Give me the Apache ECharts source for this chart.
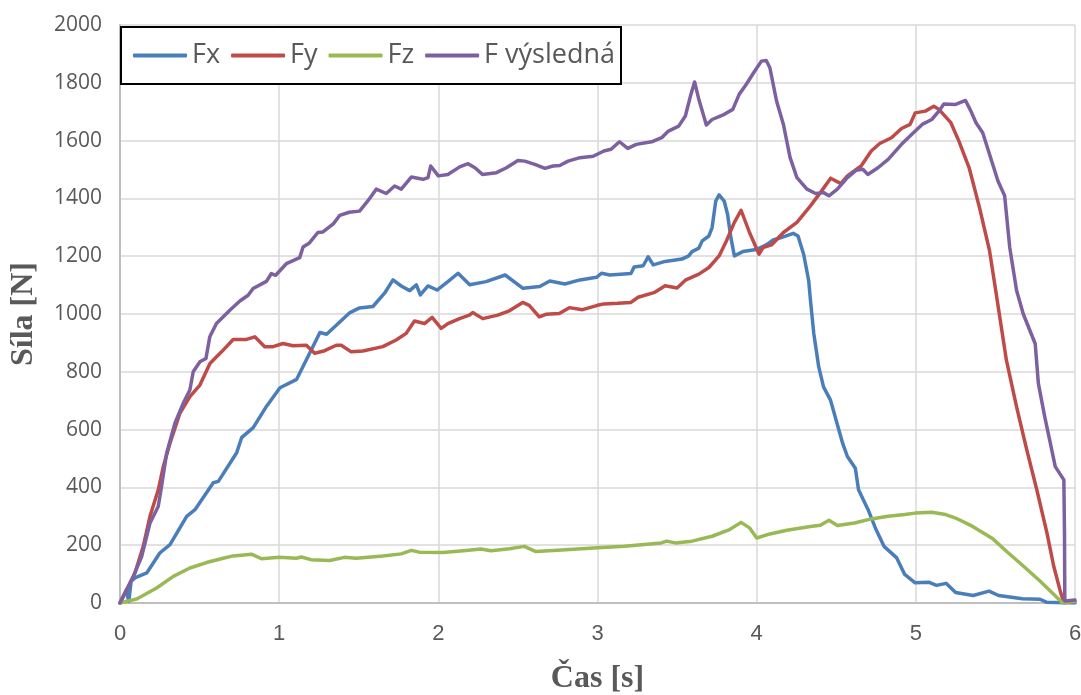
<!DOCTYPE html>
<html>
<head>
<meta charset="utf-8">
<title>Síla v čase</title>
<script src="https://cdn.jsdelivr.net/npm/echarts@6/dist/echarts.min.js"></script>
<style>
  html, body { margin: 0; padding: 0; background: #ffffff; }
  #chart { width: 1081px; height: 695px; }
</style>
</head>
<body>
<div id="chart"></div>
<script>
// Measured force components over time: [time s, force N]
const fxData = [[0,0],[0.04,45],[0.055,5],[0.07,75],[0.094,87],[0.168,104],[0.25,173],[0.314,202],[0.419,300],[0.471,323],[0.586,416],[0.618,421],[0.733,520],[0.764,572],[0.837,607],[0.921,681],[1.005,745],[1.11,774],[1.214,889],[1.256,936],[1.298,930],[1.445,1005],[1.505,1021],[1.589,1026],[1.662,1072],[1.715,1118],[1.767,1097],[1.82,1081],[1.862,1101],[1.887,1066],[1.935,1097],[1.992,1083],[2.06,1112],[2.124,1141],[2.197,1101],[2.30,1112],[2.42,1135],[2.532,1089],[2.637,1095],[2.70,1114],[2.795,1104],[2.89,1118],[2.994,1127],[3.025,1141],[3.078,1135],[3.21,1140],[3.23,1163],[3.287,1167],[3.318,1198],[3.35,1170],[3.425,1182],[3.53,1190],[3.573,1201],[3.594,1216],[3.637,1228],[3.658,1253],[3.70,1270],[3.72,1299],[3.743,1391],[3.764,1412],[3.796,1391],[3.817,1345],[3.838,1264],[3.86,1201],[3.913,1216],[3.998,1223],[4.06,1239],[4.104,1256],[4.168,1267],[4.23,1279],[4.26,1270],[4.295,1207],[4.327,1115],[4.338,1047],[4.359,932],[4.39,817],[4.42,748],[4.464,702],[4.505,621],[4.54,553],[4.57,507],[4.62,466],[4.64,392],[4.70,323],[4.75,254],[4.80,196],[4.88,156],[4.93,99],[4.996,70],[5.08,72],[5.13,61],[5.19,68],[5.25,36],[5.36,26],[5.46,41],[5.52,26],[5.67,15],[5.78,13],[5.82,3],[5.92,1],[6.0,0]];

const fyData = [[0,0],[0.094,104],[0.146,196],[0.188,299],[0.24,391],[0.272,472],[0.314,553],[0.376,656],[0.439,714],[0.502,754],[0.565,829],[0.638,869],[0.711,912],[0.795,912],[0.847,921],[0.909,887],[0.962,887],[1.024,898],[1.087,890],[1.171,892],[1.223,864],[1.286,873],[1.359,892],[1.39,892],[1.453,869],[1.526,872],[1.651,887],[1.735,910],[1.798,933],[1.85,976],[1.913,967],[1.961,988],[2.018,950],[2.06,967],[2.133,984],[2.195,996],[2.216,1005],[2.279,984],[2.373,996],[2.446,1011],[2.53,1040],[2.571,1030],[2.634,990],[2.676,999],[2.76,1002],[2.823,1022],[2.906,1015],[3.0,1030],[3.04,1035],[3.127,1037],[3.21,1040],[3.255,1058],[3.36,1075],[3.425,1098],[3.5,1090],[3.552,1117],[3.637,1138],[3.70,1161],[3.764,1201],[3.806,1248],[3.86,1317],[3.902,1359],[3.955,1282],[4.015,1207],[4.04,1230],[4.093,1239],[4.168,1282],[4.253,1317],[4.338,1374],[4.40,1420],[4.465,1470],[4.529,1451],[4.57,1478],[4.656,1512],[4.72,1564],[4.773,1590],[4.847,1610],[4.91,1642],[4.964,1656],[4.996,1696],[5.06,1702],[5.113,1719],[5.145,1708],[5.22,1662],[5.27,1599],[5.335,1506],[5.4,1368],[5.463,1219],[5.505,1070],[5.569,840],[5.633,679],[5.697,530],[5.76,392],[5.824,242],[5.866,128],[5.91,36],[5.93,1],[6.0,5]];

const fzData = [[0,0],[0.105,14],[0.23,52],[0.335,92],[0.439,121],[0.544,140],[0.648,155],[0.711,163],[0.826,169],[0.889,153],[1.0,158],[1.108,155],[1.14,159],[1.20,150],[1.317,147],[1.41,158],[1.484,155],[1.652,163],[1.767,170],[1.83,182],[1.88,176],[2.03,175],[2.174,182],[2.268,187],[2.331,181],[2.446,188],[2.54,196],[2.613,178],[2.80,184],[3.0,191],[3.17,196],[3.40,208],[3.435,214],[3.488,208],[3.594,214],[3.72,231],[3.83,254],[3.902,279],[3.955,260],[4.0,225],[4.083,239],[4.19,252],[4.338,265],[4.40,269],[4.454,286],[4.507,268],[4.614,277],[4.72,291],[4.826,300],[4.93,306],[4.996,311],[5.10,314],[5.187,306],[5.25,294],[5.357,265],[5.484,222],[5.569,179],[5.675,128],[5.78,76],[5.866,30],[5.92,1],[6.0,5]];

const fResData = [[0,0],[0.084,92],[0.136,161],[0.188,276],[0.24,334],[0.261,403],[0.293,518],[0.345,622],[0.397,691],[0.439,737],[0.46,800],[0.502,835],[0.54,846],[0.564,921],[0.606,967],[0.69,1013],[0.753,1045],[0.805,1065],[0.836,1088],[0.92,1113],[0.951,1140],[0.978,1134],[1.045,1174],[1.129,1195],[1.15,1232],[1.19,1246],[1.243,1282],[1.275,1284],[1.34,1312],[1.38,1341],[1.44,1352],[1.505,1356],[1.558,1392],[1.61,1432],[1.673,1417],[1.725,1443],[1.767,1432],[1.83,1474],[1.904,1466],[1.935,1472],[1.952,1512],[2.0,1478],[2.06,1483],[2.134,1509],[2.187,1520],[2.23,1506],[2.277,1483],[2.365,1489],[2.428,1506],[2.50,1531],[2.543,1529],[2.606,1518],[2.67,1504],[2.72,1512],[2.763,1514],[2.815,1529],[2.89,1541],[2.973,1546],[3.04,1564],[3.085,1570],[3.138,1596],[3.19,1573],[3.244,1587],[3.34,1596],[3.403,1610],[3.446,1633],[3.51,1650],[3.552,1685],[3.584,1754],[3.61,1803],[3.637,1742],[3.684,1654],[3.72,1673],[3.786,1688],[3.85,1708],[3.89,1760],[3.934,1794],[3.987,1840],[4.03,1875],[4.06,1877],[4.083,1852],[4.125,1737],[4.168,1656],[4.21,1541],[4.253,1472],[4.316,1432],[4.37,1417],[4.42,1420],[4.454,1409],[4.507,1432],[4.57,1472],[4.624,1497],[4.667,1501],[4.698,1483],[4.762,1506],[4.826,1535],[4.91,1587],[4.975,1622],[5.04,1656],[5.10,1673],[5.145,1702],[5.176,1727],[5.25,1725],[5.312,1739],[5.346,1702],[5.378,1662],[5.42,1627],[5.463,1553],[5.516,1460],[5.558,1409],[5.59,1230],[5.633,1081],[5.675,1000],[5.75,897],[5.77,759],[5.81,644],[5.845,553],[5.876,472],[5.93,426],[5.934,242],[5.936,7],[6.0,10]];

const seriesNames = ['Fx', 'Fy', 'Fz', 'F výsledná'];
const seriesColors = ['#4A7EBB', '#BE4B48', '#98B954', '#7D60A0'];
const seriesData = [fxData, fyData, fzData, fResData];

const xTitle = 'Čas [s]';
const yTitle = 'Síla [N]';

const chart = echarts.init(document.getElementById('chart'), null, { renderer: 'canvas' });

const textGray = '#595959';

chart.setOption({
  backgroundColor: '#ffffff',
  animation: false,
  grid: { left: 120, right: 6, top: 25, bottom: 92, containLabel: false, outerBoundsMode: 'none' },
  legend: {
    left: 121,
    top: 27,
    orient: 'horizontal',
    padding: [15, 6, 15, 12],
    itemGap: 11,
    itemWidth: 54,
    itemHeight: 4,
    icon: 'roundRect',
    borderColor: '#000000',
    borderWidth: 2,
    backgroundColor: '#ffffff',
    textStyle: { fontFamily: "'Open Sans', sans-serif", fontSize: 27, color: textGray },
    data: seriesNames
  },
  xAxis: {
    type: 'value',
    min: 0,
    max: 6,
    interval: 1,
    name: xTitle,
    nameLocation: 'middle',
    nameGap: 60,
    nameTextStyle: { fontFamily: "'Liberation Serif', serif", fontWeight: 'bold', fontSize: 32, color: textGray },
    axisLine: { show: true, lineStyle: { color: '#bfbfbf', width: 2 } },
    axisTick: { show: false },
    axisLabel: { margin: 20, fontFamily: "'Liberation Sans Narrow', 'Liberation Sans', sans-serif", fontSize: 22, color: textGray },
    splitLine: { show: true, lineStyle: { color: '#d9d9d9', width: 1.5 } }
  },
  yAxis: {
    type: 'value',
    min: 0,
    max: 2000,
    interval: 200,
    name: yTitle,
    nameLocation: 'middle',
    nameGap: 80,
    nameRotate: 90,
    nameTextStyle: { fontFamily: "'Liberation Serif', serif", fontWeight: 'bold', fontSize: 32, color: textGray },
    axisLine: { show: true, lineStyle: { color: '#bfbfbf', width: 2 } },
    axisTick: { show: false },
    axisLabel: { margin: 18, fontFamily: "'Open Sans', sans-serif", fontSize: 21, color: textGray, formatter: (v) => String(v) },
    splitLine: { show: true, lineStyle: { color: '#d9d9d9', width: 1.5 } }
  },
  series: seriesNames.map((name, i) => ({
    name: name,
    type: 'line',
    data: seriesData[i],
    showSymbol: false,
    symbol: 'none',
    smooth: false,
    clip: true,
    color: seriesColors[i],
    lineStyle: { width: 3.5, color: seriesColors[i], cap: 'round', join: 'round' }
  }))
});
</script>
</body>
</html>
